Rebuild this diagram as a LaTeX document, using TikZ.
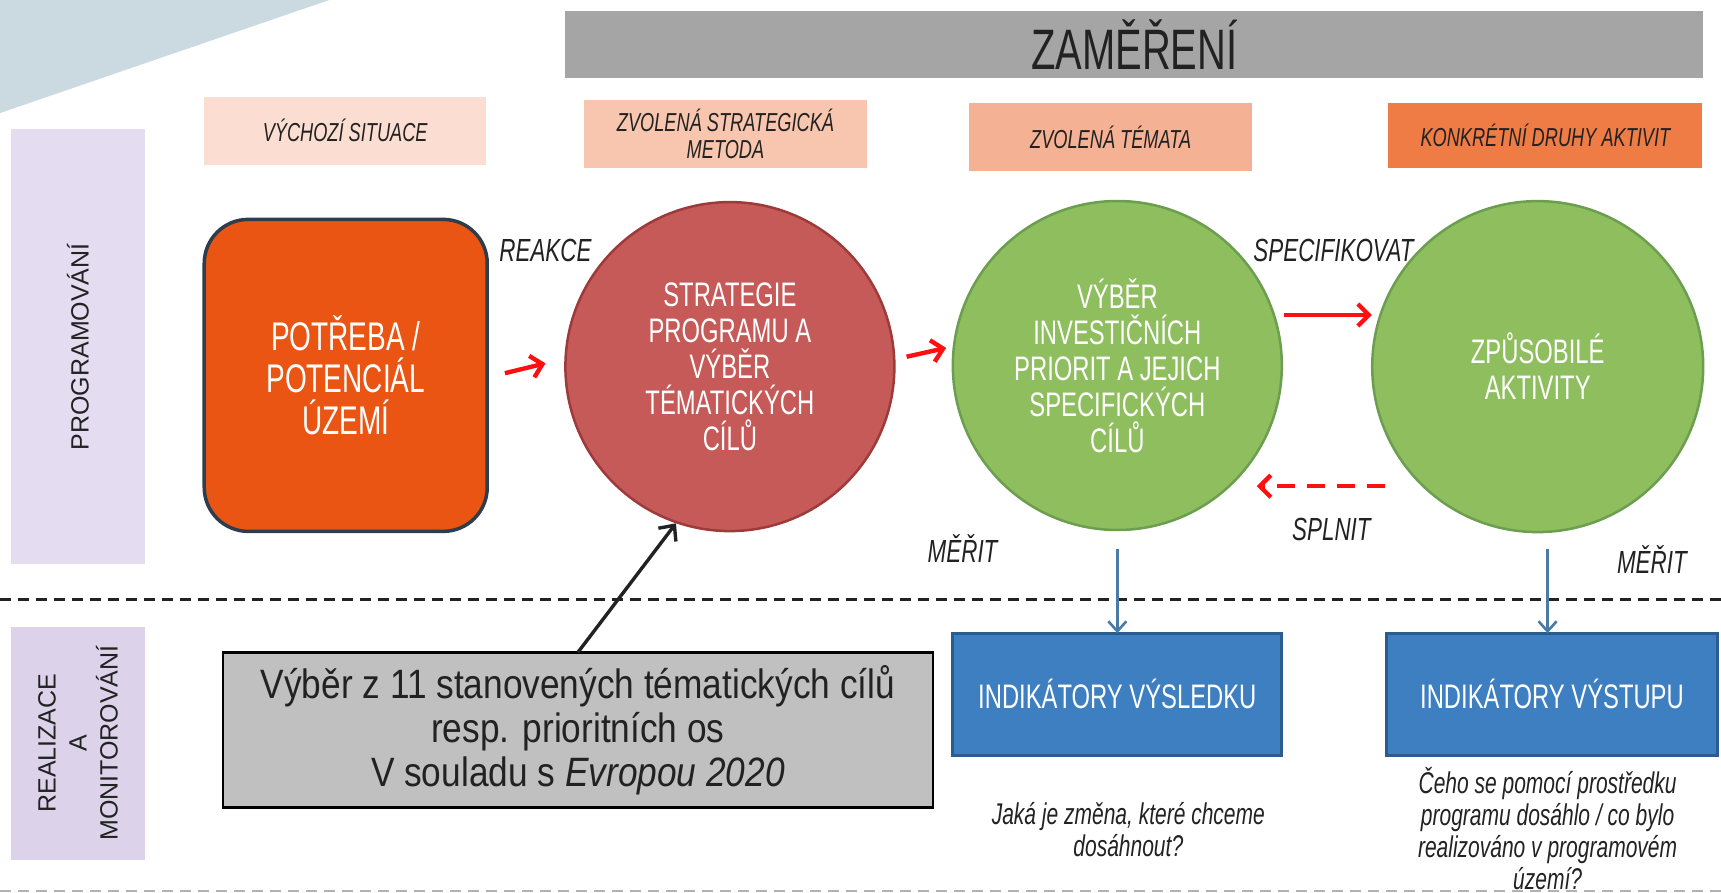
\documentclass[tikz,border=0pt]{standalone}
\usepackage{fontspec}
\setmainfont{Liberation Sans}
\newfontfamily\cond[FakeStretch=0.7]{Liberation Sans}
\newfontfamily\semicond[FakeStretch=0.86]{Liberation Sans}
\usetikzlibrary{arrows.meta}
\definecolor{tri}{HTML}{CBDAE1}
\definecolor{barg}{HTML}{A5A5A5}
\definecolor{lavA}{HTML}{E4DDF1}
\definecolor{lavB}{HTML}{DCD3EA}
\definecolor{hA}{HTML}{FBDDD1}
\definecolor{hB}{HTML}{F8C6AE}
\definecolor{hC}{HTML}{F5B193}
\definecolor{hD}{HTML}{F07C45}
\definecolor{needF}{HTML}{EA5514}
\definecolor{needD}{HTML}{2E3D4C}
\definecolor{redF}{HTML}{C55A58}
\definecolor{redD}{HTML}{9E3B3A}
\definecolor{grnF}{HTML}{8FBE5F}
\definecolor{grnD}{HTML}{6B9E4F}
\definecolor{bluF}{HTML}{3D7FC1}
\definecolor{bluD}{HTML}{2A5C8E}
\definecolor{steel}{HTML}{4A7AA6}
\definecolor{callF}{HTML}{C0C0C0}
\definecolor{txt}{HTML}{222222}
\definecolor{arrred}{HTML}{FF1010}
\tikzset{
  plain/.style={rectangle, inner sep=0pt, outer sep=0pt},
  header/.style={plain, font=\cond\itshape\fontsize{26}{27.5}\selectfont, text=txt, align=center},
  whitetext/.style={font=\cond\fontsize{34}{36}\selectfont, text=white, align=center},
  bigcircle/.style={circle, inner sep=0pt, minimum size=329pt, line width=2.5pt, whitetext},
  lbl/.style={font=\cond\itshape\fontsize{32}{34}\selectfont, text=txt},
  question/.style={font=\cond\itshape\fontsize{30}{32}\selectfont, text=txt, align=center},
  rowlbl/.style={rotate=90, font=\fontsize{25}{31}\selectfont, text=txt, align=center},
  redarrow/.style={draw=arrred, line width=4.4pt, -{Straight Barb[length=11pt,width=22pt,line width=4.4pt]}},
  bluearrow/.style={draw=steel, line width=2.6pt, -{Straight Barb[length=10pt,width=18pt,line width=2.6pt]}},
  blackarrow/.style={draw=txt, line width=3.4pt, -{Straight Barb[length=12pt,width=22pt,line width=3.4pt]}},
}
\begin{document}
\begin{tikzpicture}[x=1.0976pt,y=-1.0976pt]
\useasboundingbox (0,0) rectangle (1568,813.6);
% corner decoration
\fill[tri] (0,0) -- (300,0) -- (0,103) -- cycle;
% title bar
\node[plain, fill=barg, minimum width=1138pt, minimum height=67pt,
      font=\cond\fontsize{57}{60}\selectfont, text=txt] (zam) at (1033.5,40.5) {ZAMĚŘENÍ};
% row labels
\node[plain, fill=lavA, minimum width=134pt, minimum height=435pt] (prog) at (71,316) {};
\node[rowlbl] at (prog.center) {PROGRAMOVÁNÍ};
\node[plain, fill=lavB, minimum width=134pt, minimum height=233pt] (real) at (71,677) {};
\node[rowlbl] at (real.center) {REALIZACE\\A\\MONITOROVÁNÍ};
% header boxes
\node[header, fill=hA, minimum width=282pt, minimum height=68pt] (h1) at (314.5,119) {VÝCHOZÍ SITUACE};
\node[header, fill=hB, minimum width=283pt, minimum height=68pt] (h2) at (661,122) {ZVOLENÁ STRATEGICKÁ\\METODA};
\node[header, fill=hC, minimum width=283pt, minimum height=68pt] (h3) at (1012,125) {ZVOLENÁ TÉMATA};
\node[header, fill=hD, minimum width=314pt, minimum height=65pt] (h4) at (1408,123.5) {KONKRÉTNÍ DRUHY AKTIVIT};
% main shapes
\node[plain, fill=needF, draw=needD, line width=3.5pt, rounded corners=44pt,
      minimum width=283pt, minimum height=312pt,
      font=\cond\fontsize{40}{42}\selectfont, text=white, align=center] (need) at (315,342)
      {POTŘEBA /\\POTENCIÁL\\ÚZEMÍ};
\node[bigcircle, fill=redF, draw=redD] (strat) at (665,334)
      {STRATEGIE\\PROGRAMU A\\VÝBĚR\\TÉMATICKÝCH\\CÍLŮ};
\node[bigcircle, fill=grnF, draw=grnD] (inv) at (1018,333)
      {VÝBĚR\\INVESTIČNÍCH\\PRIORIT A JEJICH\\SPECIFICKÝCH\\CÍLŮ};
\node[bigcircle, fill=grnF, draw=grnD, minimum size=331pt] (akt) at (1401,334)
      {ZPŮSOBILÉ\\AKTIVITY};
% labels
\node[lbl] (reakce) at (497,228) {REAKCE};
\node[lbl] (spec) at (1215,228) {SPECIFIKOVAT};
\node[lbl] (splnit) at (1213,482) {SPLNIT};
\node[lbl] (merit1) at (877,500) {MĚŘIT};
\node[lbl] (merit2) at (1505,510) {MĚŘIT};
% red arrows
\coordinate (r1s) at (460,340); \coordinate (r1e) at (497,331);
\coordinate (r2s) at (826,325); \coordinate (r2e) at (862,317);
\coordinate (r3s) at (1170,287); \coordinate (r3e) at (1250,287);
\coordinate (r4s) at (1262,443); \coordinate (r4e) at (1145,443);
\draw[redarrow] (r1s) -- (r1e);
\draw[redarrow] (r2s) -- (r2e);
\draw[redarrow] (r3s) -- (r3e);
\draw[redarrow, dash pattern=on 18pt off 12pt] (r4s) -- (r4e);
% separators
\draw[draw=txt, line width=2.6pt, dash pattern=on 11pt off 7pt] (0,546) -- (1568,546);
\draw[draw=black!30, line width=2pt, dash pattern=on 11pt off 7pt] (0,812) -- (1568,812);
% indicator boxes
\node[plain, fill=bluF, draw=bluD, line width=3pt, minimum width=329pt, minimum height=122pt,
      whitetext] (ind1) at (1018,632.5) {INDIKÁTORY VÝSLEDKU};
\node[plain, fill=bluF, draw=bluD, line width=3pt, minimum width=331pt, minimum height=122pt,
      whitetext] (ind2) at (1414,632.5) {INDIKÁTORY VÝSTUPU};
\coordinate (b1s) at (1018,500);
\coordinate (b2s) at (1410,500);
\draw[bluearrow] (b1s) -- (ind1.north);
\draw[bluearrow] (b2s) -- (ind2.north -| b2s);
% questions
\node[question] (q1) at (1028,756) {Jaká je změna, které chceme\\dosáhnout?};
\node[question] (q2) at (1410,755) {Čeho se pomocí prostředku\\programu dosáhlo / co bylo\\realizováno v programovém\\území?};
% callout
\node[plain, fill=callF, draw=black, line width=2.2pt, minimum width=710pt, minimum height=155pt,
      font=\semicond\fontsize{41}{44}\selectfont, text=txt, align=center] (call) at (526.5,665)
      {Výběr z 11 stanovených tématických cílů\\resp. prioritních os\\V souladu s \textit{Evropou 2020}};
\draw[blackarrow] (call.north) -- (strat.251);
\end{tikzpicture}
\end{document}
